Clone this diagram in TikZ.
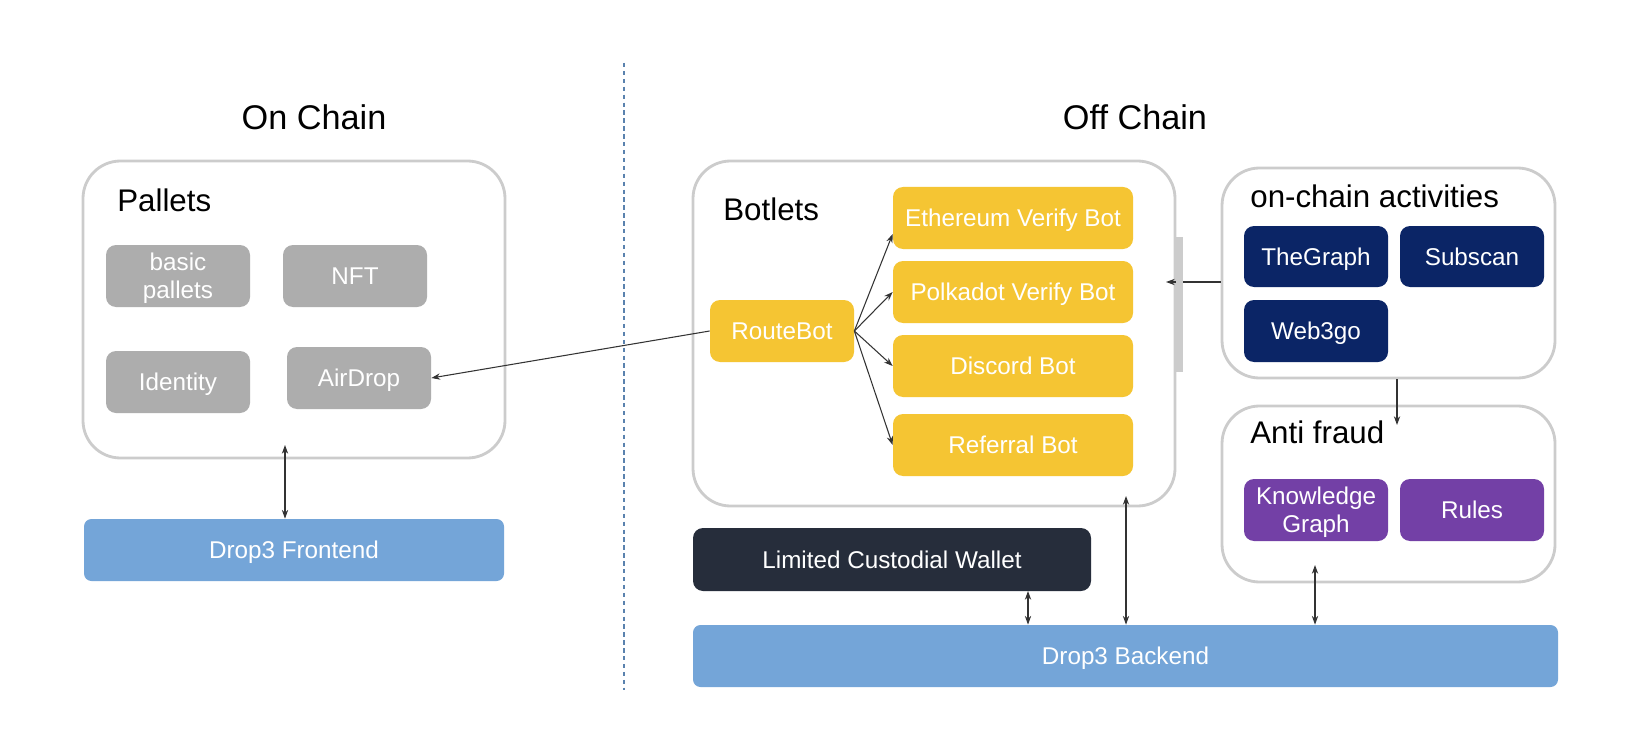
\documentclass[tikz,border=0pt]{standalone}
\usepackage{fontspec}
\setmainfont{Liberation Sans}
\usetikzlibrary{arrows.meta}
\definecolor{panelgray}{HTML}{CCCCCC}
\definecolor{palletgray}{HTML}{ADADAD}
\definecolor{botyellow}{HTML}{F5C533}
\definecolor{chainnavy}{HTML}{0B2566}
\definecolor{fraudpurple}{HTML}{7340A6}
\definecolor{walletdark}{HTML}{262D3B}
\definecolor{dropblue}{HTML}{74A5D8}
\definecolor{splitblue}{HTML}{5A82AE}
\definecolor{linkgray}{HTML}{333333}
\begin{document}
\begin{tikzpicture}[
  >={Stealth[length=5pt,width=3.6pt]},
  panel/.style={draw=panelgray, line width=1.6pt, rounded corners=0.75cm},
  item/.style={rounded corners=0.2cm, text=white, inner sep=0pt, align=center,
    minimum width=2.88cm, minimum height=1.24cm, text height=12.5pt, text depth=2.6pt,
    font=\fontsize{13.8}{16}\selectfont},
  twoline/.style={text height=28.5pt, text depth=2.6pt},
  botitem/.style={item, fill=botyellow, minimum width=4.8cm},
  heading/.style={anchor=west, inner sep=0pt, font=\fontsize{17.8}{20}\selectfont},
  title/.style={inner sep=0pt, font=\fontsize{19.5}{22}\selectfont},
  link/.style={draw=linkgray, semithick}
]
\path[fill=white, use as bounding box] (0,0) rectangle (33,15);
\draw[splitblue, line width=0.6pt, dash pattern=on 2.5pt off 2pt] (12.48,13.74) -- (12.48,1.20);
\node[title] (on) at (6.28,12.66) {On Chain};
\node[title] (off) at (22.70,12.66) {Off Chain};
\node[panel, minimum width=8.44cm, minimum height=5.94cm] (pallets) at (5.88,8.81) {};
\node[heading] (palletsT) at (2.34,11.0) {Pallets};
\node[item, twoline, fill=palletgray] (basic) at (3.56,9.48) {basic\\pallets};
\node[item, fill=palletgray] (nft) at (7.10,9.48) {NFT};
\node[item, fill=palletgray] (identity) at (3.56,7.36) {Identity};
\node[item, fill=palletgray] (airdrop) at (7.18,7.44) {AirDrop};
\node[item, fill=dropblue, rounded corners=0.15cm, minimum width=8.40cm] (frontend) at (5.88,4.00) {Drop3 Frontend};
\node[panel, minimum width=9.64cm, minimum height=6.90cm] (botlets) at (18.68,8.33) {};
\node[heading] (botletsT) at (14.46,10.82) {Botlets};
\node[botitem] (eth) at (20.26,10.64) {Ethereum Verify Bot};
\node[botitem] (dot) at (20.26,9.16) {Polkadot Verify Bot};
\node[botitem] (discord) at (20.26,7.68) {Discord Bot};
\node[botitem] (referral) at (20.26,6.10) {Referral Bot};
\node[item, fill=botyellow] (route) at (15.64,8.38) {RouteBot};
\node[panel, minimum width=6.66cm, minimum height=4.20cm] (activ) at (27.77,9.54) {};
\node[heading] (activT) at (25.0,11.08) {on-chain activities};
\node[item, fill=chainnavy, minimum height=1.22cm] (thegraph) at (26.32,9.87) {TheGraph};
\node[item, fill=chainnavy, minimum height=1.22cm] (subscan) at (29.44,9.87) {Subscan};
\node[item, fill=chainnavy] (web3go) at (26.32,8.38) {Web3go};
\node[panel, minimum width=6.66cm, minimum height=3.52cm] (fraud) at (27.77,5.12) {};
\node[heading] (fraudT) at (25.0,6.36) {Anti fraud};
\node[item, twoline, fill=fraudpurple] (kg) at (26.32,4.80) {Knowledge\\Graph};
\node[item, fill=fraudpurple] (rules) at (29.44,4.80) {Rules};
\node[item, fill=walletdark, minimum width=7.96cm, minimum height=1.26cm] (wallet) at (17.84,3.81) {Limited Custodial Wallet};
\node[item, fill=dropblue, rounded corners=0.15cm, minimum width=17.30cm] (backend) at (22.51,1.88) {Drop3 Backend};
\coordinate (bartip) at (23.32,9.36);
\coordinate (palletsend) at (5.70,6.10);
\coordinate (walletend) at (20.56,3.18);
\coordinate (botletsend) at (22.52,5.08);
\coordinate (fraudend) at (26.30,3.70);
\coordinate (fraudtip) at (27.94,6.50);
\draw[->, link] (route.east) -- ([yshift=-0.32cm]eth.west);
\draw[->, link] (route.east) -- (dot.west);
\draw[->, link] (route.east) -- (discord.west);
\draw[->, link] (route.east) -- (referral.west);
\draw[->, link] (route.west) -- (airdrop.east);
\draw[->, link] (activ.west |- bartip) -- (bartip);
\node[fill=panelgray, inner sep=0pt, minimum width=0.14cm, minimum height=2.70cm] (bar) at (23.59,8.91) {};
\draw[->, link] (activ.south -| fraudtip) -- (fraudtip);
\draw[<->, link] (palletsend) -- (palletsend |- frontend.north);
\draw[<->, link] (walletend) -- (walletend |- backend.north);
\draw[<->, link] (botletsend) -- (botletsend |- backend.north);
\draw[<->, link] (fraudend) -- (fraudend |- backend.north);
\end{tikzpicture}
\end{document}
